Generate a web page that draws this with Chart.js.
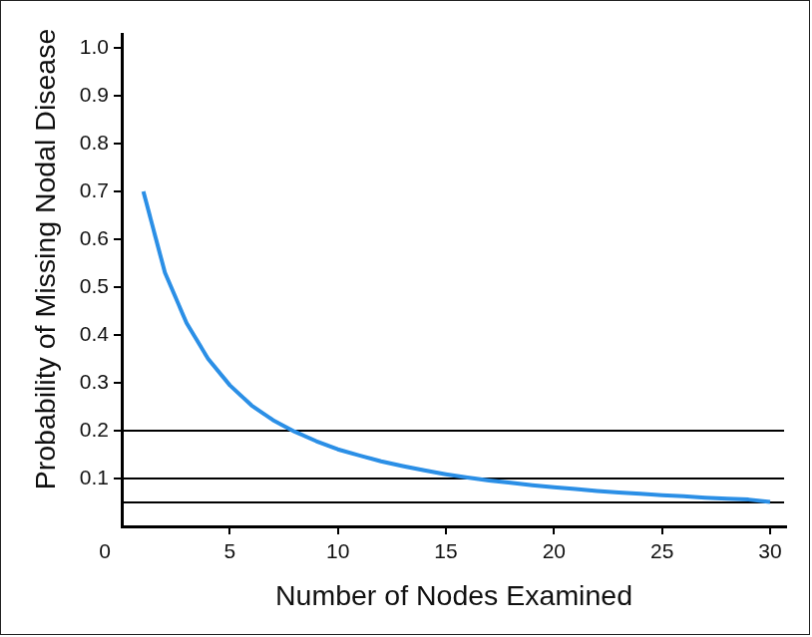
<!DOCTYPE html>
<html>
<head>
<meta charset="utf-8">
<script src="https://cdn.jsdelivr.net/npm/chart.js@4/dist/chart.umd.min.js"></script>
<style>
  html, body { margin: 0; padding: 0; background: #fff; }
  #chart { display: block; border: 1px solid #222; }
</style>
</head>
<body>
<canvas id="chart" width="810" height="635"></canvas>
<script>
// values
const nodesExamined = [1, 2, 3, 4, 5, 6, 7, 8, 9, 10, 11, 12, 13, 14, 15,
  16, 17, 18, 19, 20, 21, 22, 23, 24, 25, 26, 27, 28, 29, 30];
const probMissing = [0.70, 0.53, 0.425, 0.35, 0.295, 0.253, 0.222, 0.198, 0.178, 0.161,
  0.148, 0.136, 0.126, 0.117, 0.109, 0.102, 0.096, 0.091, 0.086, 0.082,
  0.078, 0.074, 0.071, 0.068, 0.065, 0.063, 0.060, 0.058, 0.056, 0.051];
const thresholds = [0.2, 0.1, 0.05];
const thresholdSpan = [0, 30.65];

const xTitle = 'Number of Nodes Examined';
const yTitle = 'Probability of Missing Nodal Disease';

const FONT = '"Liberation Sans", Arial, sans-serif';
const INK = '#111';
const CURVE = '#2b8fe6';

const noZeroTick = (ctx) => (ctx.tick && ctx.tick.value === 0 ? 'rgba(0,0,0,0)' : '#000');

const thresholdSets = thresholds.map((t) => ({
  data: thresholdSpan.map((x) => ({ x, y: t })),
  borderColor: '#000',
  borderWidth: 2,
  pointRadius: 0,
  order: 2,
}));

// y title and the lone "0" under the origin are drawn by hand
const extraText = {
  id: 'extraText',
  afterDraw(chart) {
    const { ctx, scales } = chart;
    ctx.save();
    ctx.fillStyle = INK;
    ctx.font = `28.5px ${FONT}`;
    ctx.textAlign = 'center';
    ctx.textBaseline = 'alphabetic';
    ctx.translate(54, 259);
    ctx.rotate(-Math.PI / 2);
    ctx.fillText(yTitle, 0, 0);
    ctx.restore();

    ctx.save();
    ctx.fillStyle = INK;
    ctx.font = `21px ${FONT}`;
    ctx.textAlign = 'center';
    ctx.textBaseline = 'alphabetic';
    ctx.fillText('0', scales.x.getPixelForValue(0) - 17, 559);
    ctx.restore();
  },
};

new Chart(document.getElementById('chart'), {
  type: 'line',
  data: {
    datasets: [
      {
        data: nodesExamined.map((n, i) => ({ x: n, y: probMissing[i] })),
        borderColor: CURVE,
        borderWidth: 4,
        borderJoinStyle: 'round',
        pointRadius: 0,
        tension: 0,
        order: 1,
      },
      ...thresholdSets,
    ],
  },
  options: {
    responsive: false,
    animation: false,
    events: [],
    layout: { padding: { top: 33, right: 23, left: 0, bottom: 0 } },
    plugins: { legend: { display: false }, tooltip: { enabled: false } },
    scales: {
      x: {
        type: 'linear',
        min: 0,
        max: 30.74,
        afterFit: (scale) => { scale.height = 108; },
        border: { color: '#000', width: 3 },
        grid: { drawOnChartArea: false, drawTicks: true, tickLength: 8, color: noZeroTick, lineWidth: 2 },
        ticks: {
          stepSize: 5,
          includeBounds: false,
          padding: 6,
          color: INK,
          font: { family: FONT, size: 21 },
          callback: (v) => (v === 0 ? '' : String(v)),
        },
        title: {
          display: true,
          text: xTitle,
          color: INK,
          font: { family: FONT, size: 28.5 },
          padding: { top: 0, bottom: 20 },
        },
      },
      y: {
        min: 0,
        max: 1.029,
        afterFit: (scale) => { scale.width = 121; },
        border: { color: '#000', width: 3 },
        grid: { drawOnChartArea: false, drawTicks: true, tickLength: 8, color: noZeroTick, lineWidth: 2 },
        ticks: {
          stepSize: 0.1,
          includeBounds: false,
          padding: 5,
          color: INK,
          font: { family: FONT, size: 21 },
          callback: (v) => (v === 0 ? '' : v.toFixed(1)),
        },
      },
    },
  },
  plugins: [extraText],
});
</script>
</body>
</html>
